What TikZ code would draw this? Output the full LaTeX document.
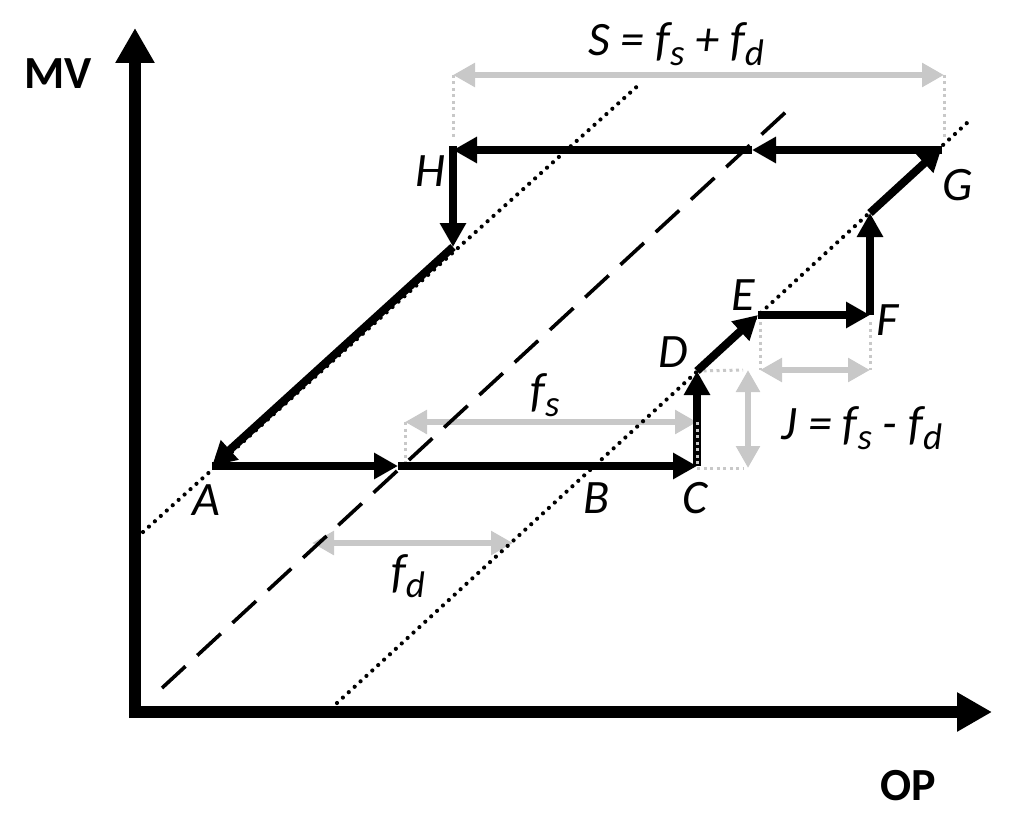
\documentclass[tikz,border=0pt]{standalone}
\usepackage{fontspec}
\setmainfont{Carlito}
\usetikzlibrary{arrows.meta}
\definecolor{lgray}{RGB}{200,200,200}
\newcommand\lsub[1]{\raisebox{-0.22em}{\fontsize{37}{37}\selectfont #1}}
\begin{document}
\begin{tikzpicture}[x=1pt,y=-1pt,
  axisline/.style={line width=12pt,-{Triangle[length=35pt,width=37pt]}},
  patharrow/.style={line width=8pt,-{Triangle[length=24pt,width=25pt]}},
  grayarrow/.style={line width=6.5pt,draw=lgray,{Triangle[length=22pt,width=23pt]}-{Triangle[length=22pt,width=23pt]}},
  graydot/.style={line width=3pt,draw=lgray,dash pattern=on 3pt off 3.5pt},
  blackdot/.style={line width=4.2pt,line cap=round,dash pattern=on 0pt off 8pt},
  longdash/.style={line width=3.6pt,dash pattern=on 32pt off 16pt},
  lbl/.style={font=\fontsize{48}{52}\selectfont\itshape,inner sep=0pt},
  axlbl/.style={font=\fontsize{46}{52}\selectfont\bfseries,inner sep=0pt}]
\useasboundingbox (0,0) rectangle (1024,824);
% axes
\coordinate (Ytop) at (135,28);
\coordinate (Ystart) at (135,718);
\coordinate (Xstart) at (129,712);
\coordinate (Xend) at (992,712);
\draw[axisline] (Ystart) -- (Ytop);
\draw[axisline] (Xstart) -- (Xend);
\node[axlbl] (mv) at (58,74) {MV};
\node[axlbl] (op) at (908,786) {OP};
% key points
\coordinate (A) at (212,466);
\coordinate (Bm) at (398,466);
\coordinate (C) at (697,466);
\coordinate (D) at (697,371);
\coordinate (E) at (758,315);
\coordinate (F) at (870,315);
\coordinate (Fp) at (870,213);
\coordinate (G) at (942,147);
\coordinate (Gh) at (942,150);
\coordinate (Gm) at (752,150);
\coordinate (H) at (453,150);
\coordinate (Hp) at (453,247);
% gray helper lines
\coordinate (S1) at (453,75);
\coordinate (S2) at (944,75);
\coordinate (S1b) at (453,140);
\coordinate (S2b) at (944,140);
\draw[graydot] (S1) -- (S1b);
\draw[graydot] (S2) -- (S2b);
\draw[grayarrow] (S1) -- (S2);
\coordinate (fs1) at (405,422);
\coordinate (fs2) at (697,422);
\coordinate (fs1b) at (405,466);
\draw[graydot] (fs1) -- (fs1b);
\draw[grayarrow] (fs1) -- (fs2);
\coordinate (fd1) at (312,543);
\coordinate (fd2) at (513,543);
\draw[grayarrow] (fd1) -- (fd2);
\coordinate (j1) at (748,370);
\coordinate (j2) at (748,468);
\coordinate (jd1) at (743,370);
\coordinate (jd2) at (743,468);
\coordinate (Cr) at (697,468);
\draw[graydot] (D) -- (jd1);
\draw[graydot] (Cr) -- (jd2);
\draw[grayarrow] (j1) -- (j2);
\coordinate (ef1) at (760,370);
\coordinate (ef2) at (870,370);
\coordinate (ef1t) at (760,322);
\coordinate (ef2t) at (870,322);
\draw[graydot] (ef1t) -- (ef1);
\draw[graydot] (ef2t) -- (ef2);
\draw[grayarrow] (ef1) -- (ef2);
% reference lines
\coordinate (L1a) at (143,532);
\coordinate (L1b) at (642,82);
\coordinate (L2a) at (162,688);
\coordinate (L2b) at (788,110);
\coordinate (L3a) at (337,703);
\coordinate (L3b) at (968,122);
\draw[blackdot] (L1a) -- (L1b);
\draw[longdash] (L2a) -- (L2b);
\draw[blackdot] (L3a) -- (L3b);
% main path
\draw[patharrow] (A) -- (Bm);
\draw[patharrow] (Bm) -- (C);
\draw[patharrow] (C) -- (D);
\draw[patharrow] (D) -- (E);
\draw[patharrow] (E) -- (F);
\draw[patharrow] (F) -- (Fp);
\draw[patharrow] (Fp) -- (G);
\draw[patharrow] (Gh) -- (Gm);
\draw[patharrow] (Gm) -- (H);
\coordinate (Ht) at (453,146);
\draw[patharrow] (Ht) -- (Hp);
\draw[patharrow] (Hp) -- (A);
\coordinate (fs2b) at (697,466);
\draw[graydot] (fs2) -- (fs2b);
% labels
\node[lbl] (lA) at (206,500) {A};
\node[lbl] (lB) at (597,498) {B};
\node[lbl] (lC) at (695,498) {C};
\node[lbl] (lD) at (673,352) {D};
\node[lbl] (lE) at (743,295) {E};
\node[lbl] (lF) at (888,320) {F};
\node[lbl] (lG) at (958,185) {G};
\node[lbl] (lH) at (430,171) {H};
\node[lbl] (lS) at (676,44) {S = f\lsub{s} + f\lsub{d}};
\node[lbl] (lfs) at (545,395) {f\lsub{s}};
\node[lbl] (lfd) at (408,576) {f\lsub{d}};
\node[lbl] (lJ) at (862,428) {J = f\lsub{s} - f\lsub{d}};
\end{tikzpicture}
\end{document}
